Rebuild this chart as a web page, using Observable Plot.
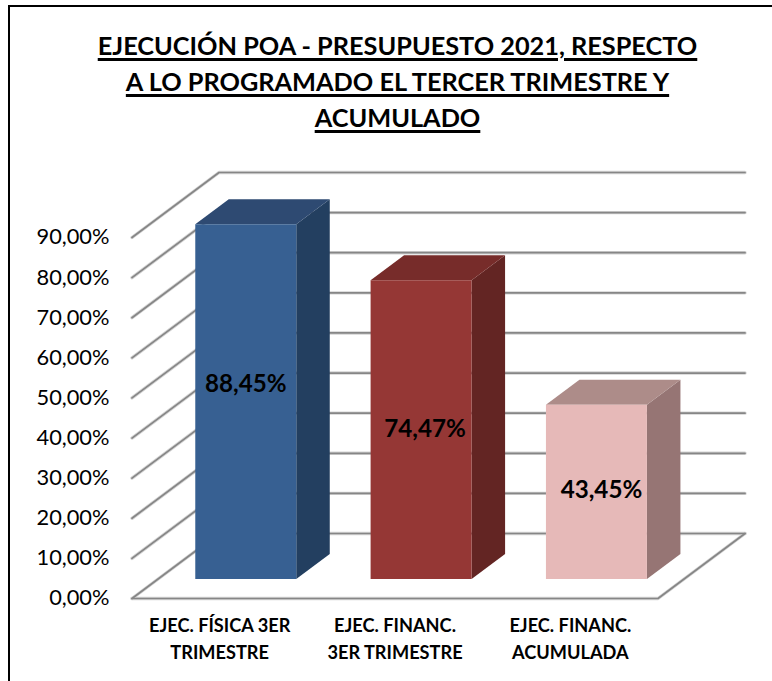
<!DOCTYPE html>
<html lang="es">
<head>
<meta charset="utf-8">
<script src="https://cdn.jsdelivr.net/npm/d3@7"></script>
<script src="https://cdn.jsdelivr.net/npm/@observablehq/plot@0.6"></script>
<style>
html,body{margin:0;padding:0;background:#fff;}
body{width:772px;height:681px;overflow:hidden;position:relative;font-family:Lato,sans-serif;}
#frame{position:absolute;left:8px;top:5px;right:-10px;bottom:-10px;border-left:2px solid #000;border-top:2px solid #000;}
#title{height:160px;box-sizing:border-box;padding-top:27px;padding-left:23px;text-align:center;font-weight:700;font-size:25.3px;line-height:36px;color:#000;text-decoration:underline;text-decoration-thickness:2.5px;text-underline-offset:3px;position:relative;}
#chart{position:relative;height:521px;}
svg{display:block;}
</style>
</head>
<body>
<div id="frame"></div>
<div id="title">EJECUCIÓN POA - PRESUPUESTO 2021, RESPECTO<br>A LO PROGRAMADO EL TERCER TRIMESTRE Y<br>ACUMULADO</div>
<div id="chart"></div>
<script>
// Data
const categories = ["EJEC. FÍSICA 3ER\nTRIMESTRE", "EJEC. FINANC.\n3ER TRIMESTRE", "EJEC. FINANC.\nACUMULADA"];
const values = [88.45, 74.47, 43.45];
const labels = ["88,45%", "74,47%", "43,45%"];
const yTicks = [0, 10, 20, 30, 40, 50, 60, 70, 80, 90];
const frontColors = ["#376092", "#953735", "#e6b9b8"];
const sideColors = ["#233f60", "#632523", "#967574"];
const topColors = ["#2e4a72", "#772c2a", "#ad8c89"];

// Oblique projection of the 3-D box, in scale units
const titleH = 160;
const xUnitPx = 526 / 3, yUnitPx = 361 / 90;
const depthX = 87 / xUnitPx, depthY = 65 / yUnitPx;
const P = (x, v, d) => ({x: x + d * depthX, y: v + d * depthY});
const D0 = 0.3, D1 = 0.685, HALF = 0.288;

const gridRows = yTicks.flatMap(v => [
  {v, ...P(0, v, 0)}, {v, ...P(0, v, 1)}, {v, ...P(3, v, 1)}
]);
const floorFront = [P(0, 0, 0), P(3, 0, 0), P(3, 0, 1)];

const faces = values.flatMap((v, i) => {
  const l = i + 0.5 - HALF, r = i + 0.5 + HALF;
  const poly = (id, fill, pts) => pts.map(p => ({id: `${i}-${id}`, fill, ...p}));
  return [
    ...poly("side", sideColors[i], [P(r, 0, D0), P(r, 0, D1), P(r, v, D1), P(r, v, D0)]),
    ...poly("top", topColors[i], [P(l, v, D0), P(r, v, D0), P(r, v, D1), P(l, v, D1)]),
    ...poly("front", frontColors[i], [P(l, 0, D0), P(r, 0, D0), P(r, v, D0), P(l, v, D0)])
  ];
});

const labelNudge = [[0, -17], [4, 0], [5, -2]];
const labelRows = values.map((v, i) => ({
  ...P(i + 0.5, v / 2, D0), text: labels[i], dx: labelNudge[i][0], dy: labelNudge[i][1]
}));

const chart = Plot.plot({
  width: 772,
  height: 521,
  margin: 0,
  marginLeft: 131,
  marginRight: 115,
  style: {fontFamily: "Lato, sans-serif", background: "transparent", overflow: "visible"},
  x: {type: "linear", domain: [0, 3], range: [131.5, 657.5], axis: null},
  y: {type: "linear", domain: [0, 90], range: [598 - titleH, 237 - titleH], axis: null},
  color: {type: "identity"},
  marks: [
    Plot.line(gridRows, {x: "x", y: "y", z: "v", stroke: "#d4d4d4", strokeWidth: 3.4}),
    Plot.line(floorFront, {x: "x", y: "y", stroke: "#d4d4d4", strokeWidth: 3.4}),
    Plot.line(gridRows, {x: "x", y: "y", z: "v", stroke: "#868686", strokeWidth: 1.7}),
    Plot.line(floorFront, {x: "x", y: "y", stroke: "#868686", strokeWidth: 1.7}),
    Plot.line(faces, {x: "x", y: "y", z: "id", fill: "fill", stroke: null}),
    Plot.axisY({
      ticks: yTicks, tickSize: 0, tickPadding: 22, label: null,
      tickFormat: v => v.toFixed(2).replace(".", ",") + "%",
      fontSize: 21.8, fill: "#000"
    }),
    Plot.text(categories, {
      x: (d, i) => i + 0.5, y: () => 0, text: d => d, dy: 38.5,
      fontSize: 18.2, fontWeight: 700, fill: "#000", lineHeight: 1.48, lineAnchor: "middle"
    }),
    ...labelRows.map(d => Plot.text([d], {
      x: "x", y: "y", text: "text", dx: d.dx, dy: d.dy,
      fontSize: 24.2, fontWeight: 700, fill: "#000"
    }))
  ]
});
document.getElementById("chart").appendChild(chart);
</script>
</body>
</html>
